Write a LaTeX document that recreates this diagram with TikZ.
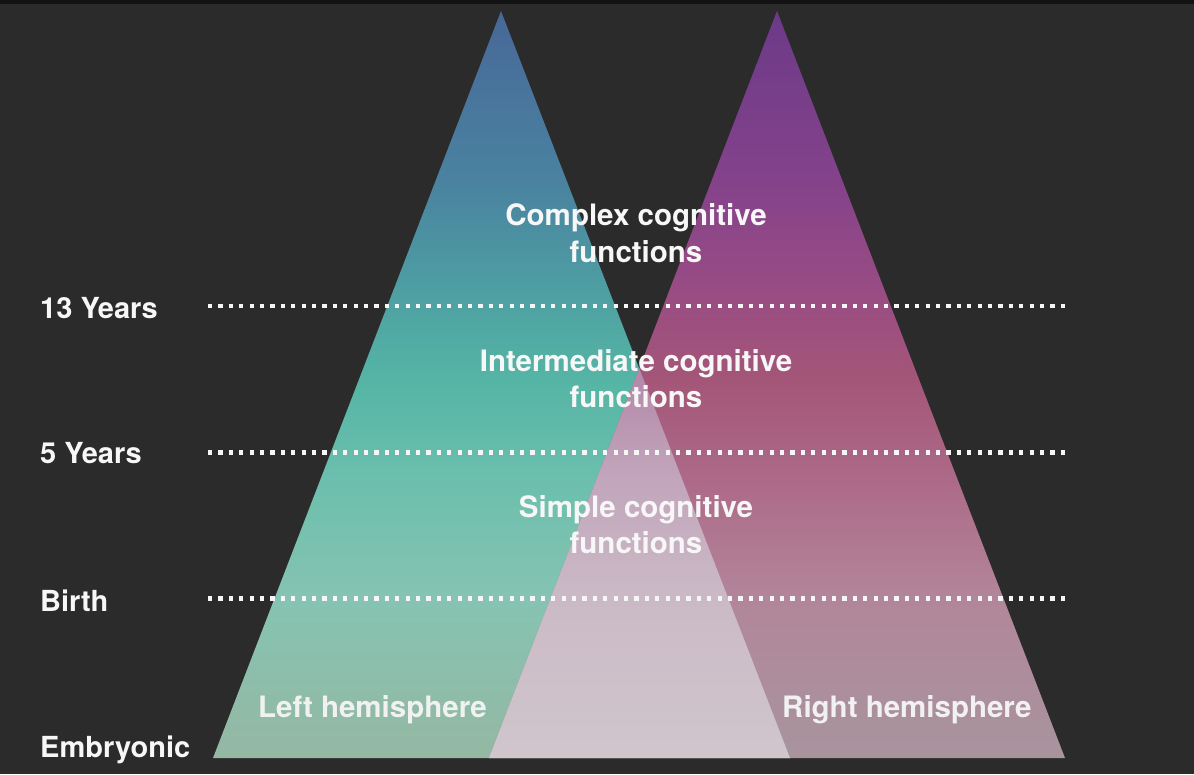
\documentclass[tikz,border=0pt]{standalone}
\usepackage{fontspec}
\setmainfont{TeX Gyre Heros}
\definecolor{bg}{HTML}{2B2B2B}
\definecolor{topband}{HTML}{121212}
\definecolor{l0}{HTML}{94B8A3}
\definecolor{l1}{HTML}{86C3B2}
\definecolor{l2}{HTML}{6CBFAD}
\definecolor{l3}{HTML}{55B5A5}
\definecolor{l4}{HTML}{4D9CA2}
\definecolor{l5}{HTML}{4A82A0}
\definecolor{l6}{HTML}{476898}
\definecolor{r0}{HTML}{A8949D}
\definecolor{r1}{HTML}{B2869A}
\definecolor{r2}{HTML}{AD6A88}
\definecolor{r3}{HTML}{A45678}
\definecolor{r4}{HTML}{974B84}
\definecolor{r5}{HTML}{84428B}
\definecolor{r6}{HTML}{6C3A88}
\definecolor{o0}{HTML}{D0C6CC}
\definecolor{o1}{HTML}{CBBAC6}
\definecolor{o2}{HTML}{C2A6BC}
\definecolor{o3}{HTML}{B48AAA}
\definecolor{txt}{HTML}{F7F7F7}
\definecolor{dotc}{HTML}{F6F6F6}
\pgfdeclareverticalshading{leftsh}{100bp}{color(0bp)=(l0); color(25bp)=(l0); color(35.6bp)=(l1); color(43.6bp)=(l2); color(50.3bp)=(l3); color(57bp)=(l4); color(63.7bp)=(l5); color(75bp)=(l6); color(100bp)=(l6)}
\pgfdeclareverticalshading{rightsh}{100bp}{color(0bp)=(r0); color(25bp)=(r0); color(35.6bp)=(r1); color(43.6bp)=(r2); color(50.3bp)=(r3); color(57bp)=(r4); color(63.7bp)=(r5); color(75bp)=(r6); color(100bp)=(r6)}
\pgfdeclareverticalshading{overlapsh}{100bp}{color(0bp)=(o0); color(25bp)=(o0); color(35.6bp)=(o1); color(43.6bp)=(o2); color(50.3bp)=(o3); color(100bp)=(o3)}
\tikzset{
  dotline/.style={draw=dotc, line width=4.2pt, dash pattern=on 4.2pt off 6.2pt},
  lbl/.style={anchor=base west, inner sep=0pt, text=txt, font=\bfseries\fontsize{29}{36}\selectfont},
  ctext/.style={anchor=base, inner sep=0pt, text=txt, font=\bfseries\fontsize{29.5}{36}\selectfont},
  hemi/.style={anchor=base west, inner sep=0pt, text=txt!95!gray, font=\bfseries\fontsize{29.5}{36}\selectfont}
}
\begin{document}
\begin{tikzpicture}[x=1pt, y=-1pt]
\fill[bg] (0,0) rectangle (1194,774);
\useasboundingbox (0,0) rectangle (1194,774);
\fill[topband] (0,0) rectangle (1194,4);
% triangle corners
\coordinate (LA) at (501,11);
\coordinate (LL) at (213,758);
\coordinate (LR) at (790,758);
\coordinate (RA) at (777,11);
\coordinate (RL) at (489,758);
\coordinate (RR) at (1065,758);
\shade[shading=leftsh] (LL) -- (LA) -- (LR) -- cycle;
\shade[shading=rightsh] (RL) -- (RA) -- (RR) -- cycle;
\begin{scope}
  \clip (LL) -- (LA) -- (LR) -- cycle;
  \shade[shading=overlapsh] (RL) -- (RA) -- (RR) -- cycle;
\end{scope}
% dotted level lines
\coordinate (d1a) at (208,306); \coordinate (d1b) at (1066,306);
\coordinate (d2a) at (208,452.5); \coordinate (d2b) at (1066,452.5);
\coordinate (d3a) at (208,598.5); \coordinate (d3b) at (1066,598.5);
\draw[dotline] (d1a) -- (d1b);
\draw[dotline] (d2a) -- (d2b);
\draw[dotline] (d3a) -- (d3b);
% left labels
\node[lbl] (y13) at (40,318) {13 Years};
\node[lbl] (y5) at (40,463) {5 Years};
\node[lbl] (birth) at (40,611) {Birth};
\node[lbl] (emb) at (40,757) {Embryonic};
% centre texts
\node[ctext] (c1) at (636,225) {Complex cognitive};
\node[ctext] (c2) at (636,262) {functions};
\node[ctext] (i1) at (636,371) {Intermediate cognitive};
\node[ctext] (i2) at (636,407) {functions};
\node[ctext] (s1) at (636,517) {Simple cognitive};
\node[ctext] (s2) at (636,553) {functions};
% hemisphere labels
\node[hemi] (lh) at (258,717) {Left hemisphere};
\node[hemi] (rh) at (782,717) {Right hemisphere};
\end{tikzpicture}
\end{document}
